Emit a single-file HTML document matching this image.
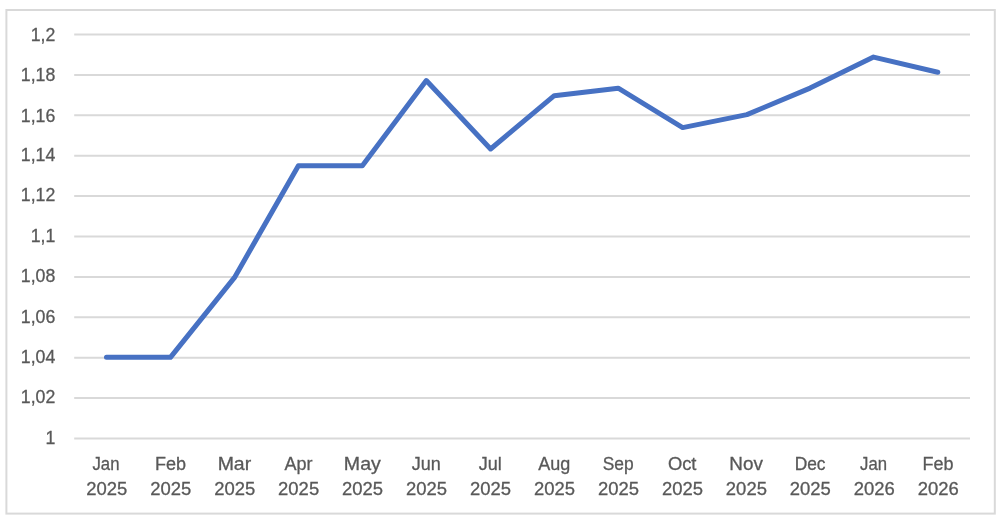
<!DOCTYPE html>
<html lang="en"><head><meta charset="utf-8"><title>Chart</title>
<style>html,body{margin:0;padding:0;background:#fff;}body{width:1000px;height:524px;overflow:hidden;}svg{display:block;}text{font-family:"Liberation Sans",sans-serif;font-size:18px;fill:#595959;stroke:#595959;stroke-width:0.3px;}</style></head><body>
<svg width="1000" height="524" viewBox="0 0 1000 524">
<rect x="0" y="0" width="1000" height="524" fill="#ffffff"/>
<defs><filter id="soft" x="0" y="0" width="1000" height="524" filterUnits="userSpaceOnUse"><feGaussianBlur stdDeviation="0.45"/></filter></defs><g filter="url(#soft)">
<rect x="6.4" y="10" width="988.4" height="503.6" fill="#ffffff" stroke="#d9d9d9" stroke-width="2"/>
<g stroke="#d9d9d9" stroke-width="2" fill="none">
<line x1="74.2" y1="34.60" x2="970.0" y2="34.60"/>
<line x1="74.2" y1="74.98" x2="970.0" y2="74.98"/>
<line x1="74.2" y1="115.36" x2="970.0" y2="115.36"/>
<line x1="74.2" y1="155.74" x2="970.0" y2="155.74"/>
<line x1="74.2" y1="196.12" x2="970.0" y2="196.12"/>
<line x1="74.2" y1="236.50" x2="970.0" y2="236.50"/>
<line x1="74.2" y1="276.88" x2="970.0" y2="276.88"/>
<line x1="74.2" y1="317.26" x2="970.0" y2="317.26"/>
<line x1="74.2" y1="357.64" x2="970.0" y2="357.64"/>
<line x1="74.2" y1="398.02" x2="970.0" y2="398.02"/>
<line x1="74.2" y1="438.40" x2="970.0" y2="438.40"/>
</g>
<polyline points="106.48,357.34 170.45,357.34 234.41,277.69 298.38,165.73 362.34,165.73 426.30,80.53 490.57,148.98 554.23,95.68 618.20,88.21 682.66,127.58 746.92,114.65 810.09,88.10 873.55,57.11 937.82,72.26" fill="none" stroke="#4671c3" stroke-width="5" stroke-linecap="round" stroke-linejoin="round"/>
<g text-anchor="end">
<text transform="translate(55.3 41.00) scale(0.985 1)">1,2</text>
<text transform="translate(55.3 81.25) scale(0.985 1)">1,18</text>
<text transform="translate(55.3 121.70) scale(0.985 1)">1,16</text>
<text transform="translate(55.3 161.00) scale(0.985 1)">1,14</text>
<text transform="translate(55.3 201.30) scale(0.985 1)">1,12</text>
<text transform="translate(55.3 241.70) scale(0.985 1)">1,1</text>
<text transform="translate(55.3 282.10) scale(0.985 1)">1,08</text>
<text transform="translate(55.3 322.80) scale(0.985 1)">1,06</text>
<text transform="translate(55.3 363.00) scale(0.985 1)">1,04</text>
<text transform="translate(55.3 403.30) scale(0.985 1)">1,02</text>
<text transform="translate(55.3 444.00) scale(0.985 1)">1</text>
</g>
<g text-anchor="middle">
<text transform="translate(105.98 470.3) scale(0.93 1)">Jan</text>
<text transform="translate(106.73 494.9) scale(1.026 1)">2025</text>
<text transform="translate(170.45 470.3) scale(1.0 1)">Feb</text>
<text transform="translate(170.70 494.9) scale(1.026 1)">2025</text>
<text transform="translate(234.41 470.3) scale(1.083 1)">Mar</text>
<text transform="translate(234.66 494.9) scale(1.026 1)">2025</text>
<text transform="translate(298.38 470.3) scale(1.0 1)">Apr</text>
<text transform="translate(298.62 494.9) scale(1.026 1)">2025</text>
<text transform="translate(362.34 470.3) scale(1.09 1)">May</text>
<text transform="translate(362.59 494.9) scale(1.026 1)">2025</text>
<text transform="translate(426.30 470.3) scale(1.0 1)">Jun</text>
<text transform="translate(426.55 494.9) scale(1.026 1)">2025</text>
<text transform="translate(490.27 470.3) scale(1.0 1)">Jul</text>
<text transform="translate(490.52 494.9) scale(1.026 1)">2025</text>
<text transform="translate(554.23 470.3) scale(1.0 1)">Aug</text>
<text transform="translate(554.48 494.9) scale(1.026 1)">2025</text>
<text transform="translate(618.20 470.3) scale(0.965 1)">Sep</text>
<text transform="translate(618.45 494.9) scale(1.026 1)">2025</text>
<text transform="translate(682.16 470.3) scale(1.02 1)">Oct</text>
<text transform="translate(682.41 494.9) scale(1.026 1)">2025</text>
<text transform="translate(746.12 470.3) scale(1.05 1)">Nov</text>
<text transform="translate(746.38 494.9) scale(1.026 1)">2025</text>
<text transform="translate(810.09 470.3) scale(0.965 1)">Dec</text>
<text transform="translate(810.34 494.9) scale(1.026 1)">2025</text>
<text transform="translate(873.55 470.3) scale(0.93 1)">Jan</text>
<text transform="translate(874.30 494.9) scale(1.026 1)">2026</text>
<text transform="translate(938.02 470.3) scale(1.0 1)">Feb</text>
<text transform="translate(938.27 494.9) scale(1.026 1)">2026</text>
</g>
</g></svg></body></html>
